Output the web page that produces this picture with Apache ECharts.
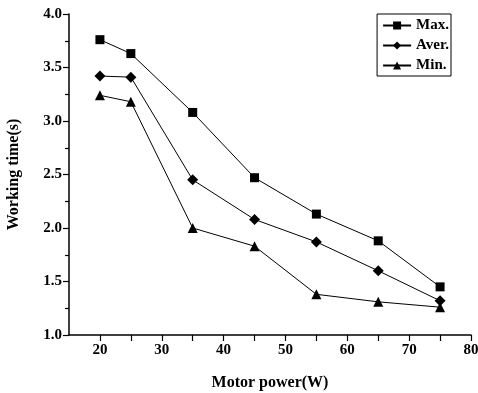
<!DOCTYPE html>
<html>
<head>
    <meta charset="utf-8">
    <title>Working time vs motor power</title>
    <script src="https://cdn.jsdelivr.net/npm/echarts@6/dist/echarts.min.js"></script>
    <style type="text/css">
        * { margin: 0; padding: 0; }
        body { background: #fff; }
        #main { width: 478px; height: 393px; }
    </style>
</head>
<body>
<div id="main"></div>
<script type="text/javascript">
    var power = [20, 25, 35, 45, 55, 65, 75];
    var maxTime = [3.76, 3.63, 3.08, 2.47, 2.13, 1.88, 1.45];
    var averTime = [3.42, 3.41, 2.45, 2.08, 1.87, 1.60, 1.32];
    var minTime = [3.24, 3.18, 2.00, 1.83, 1.38, 1.31, 1.26];

    var font = "'Liberation Serif', 'Times New Roman', serif";
    var myChart = echarts.init(document.getElementById('main'));

    function pairs(ys) {
        var out = [];
        for (var i = 0; i < power.length; i++) {
            out.push([power[i], ys[i]]);
        }
        return out;
    }

    function makeSeries(name, ys, symbol, size) {
        return {
            name: name,
            type: 'line',
            data: pairs(ys),
            symbol: symbol,
            symbolSize: size,
            color: '#000',
            lineStyle: { color: '#000', width: 1 },
            itemStyle: { color: '#000' },
            animation: false
        };
    }

    var axisText = { fontFamily: font, fontWeight: 'bold', fontSize: 15, color: '#000' };

    var option = {
        backgroundColor: '#fff',
        grid: { left: 69, right: 7, top: 14, bottom: 58, outerBoundsMode: 'none' },
        legend: {
            orient: 'vertical',
            right: 27,
            top: 14,
            itemWidth: 28,
            itemHeight: 10,
            itemGap: 5,
            padding: [4, 2, 3, 5],
            borderColor: '#000',
            borderWidth: 1,
            backgroundColor: '#fff',
            textStyle: { fontFamily: font, fontWeight: 'bold', fontSize: 15, color: '#000' },
            data: ['Max.', 'Aver.', 'Min.']
        },
        xAxis: {
            type: 'value',
            min: 15,
            max: 80,
            interval: 5,
            name: 'Motor power(W)',
            nameLocation: 'middle',
            nameGap: 40,
            nameTextStyle: { fontFamily: font, fontWeight: 'bold', fontSize: 16, color: '#000' },
            axisLine: { show: true, onZero: false, lineStyle: { color: '#000', width: 1.5 } },
            axisTick: { show: true, inside: false, length: 6, lineStyle: { color: '#000', width: 1.2 } },
            axisLabel: Object.assign({
                margin: 8,
                showMinLabel: false,
                formatter: function (v) { return v % 10 === 0 ? String(v) : ''; }
            }, axisText),
            splitLine: { show: false }
        },
        yAxis: {
            type: 'value',
            min: 1.0,
            max: 4.0,
            interval: 0.5,
            name: 'Working time(s)',
            nameLocation: 'middle',
            nameGap: 47,
            nameTextStyle: { fontFamily: font, fontWeight: 'bold', fontSize: 16, color: '#000' },
            axisLine: { show: true, onZero: false, lineStyle: { color: '#000', width: 1.5 } },
            axisTick: { show: true, length: 6, lineStyle: { color: '#000', width: 1.2 } },
            minorTick: { show: true, splitNumber: 2, length: 4, lineStyle: { color: '#000', width: 1.2 } },
            axisLabel: Object.assign({ margin: 7, formatter: function (v) { return v.toFixed(1); } }, axisText),
            splitLine: { show: false }
        },
        series: [
            makeSeries('Max.', maxTime, 'rect', 9),
            makeSeries('Aver.', averTime, 'diamond', 11),
            makeSeries('Min.', minTime, 'triangle', 10)
        ]
    };
    myChart.setOption(option);
</script>
</body>
</html>
